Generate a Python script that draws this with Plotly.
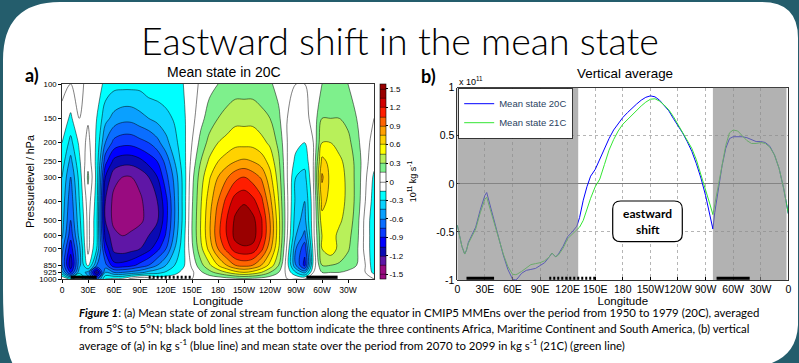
import plotly.graph_objects as go

W, H = 799, 363

# ---------------- data ----------------
longitudes_a = list(range(0, 361, 10))
pressure_levels = [100, 150, 200, 250, 300, 400, 500, 600, 700, 850, 925, 1000]
pressure_labels = ["100", "150", "200", "250", "300", "400", "500", "600", "700", "850", "925", "1000"]

psi_profiles = [
    [0.05, -0.05, -0.15, -0.22, -0.3, -0.35, -0.38, -0.42, -0.55, -0.6, -0.4, 0.0],     # 0
    [0.0, -0.18, -0.35, -0.5, -0.6, -0.7, -0.75, -0.85, -1.0, -1.15, -0.95, -0.2],      # 10E
    [0.05, 0.0, -0.12, -0.18, -0.25, -0.3, -0.35, -0.4, -0.5, -0.5, -0.35, 0.0],        # 20E
    [-0.05, -0.02, 0.05, 0.1, 0.18, 0.08, 0.05, 0.05, 0.05, -0.1, -0.5, -0.4],          # 30E
    [-0.05, -0.15, -0.18, -0.2, -0.2, -0.22, -0.25, -0.25, -0.3, -0.6, -1.25, -0.7],    # 40E
    [-0.2, -0.4, -0.6, -0.85, -1.05, -1.2, -1.2, -1.1, -0.95, -0.7, -0.45, -0.15],      # 50E
    [-0.25, -0.5, -0.8, -1.1, -1.3, -1.4, -1.4, -1.3, -1.25, -1.0, -0.6, -0.1],         # 60E
    [-0.25, -0.55, -0.85, -1.15, -1.35, -1.45, -1.45, -1.35, -1.28, -1.0, -0.6, -0.1],  # 70E
    [-0.25, -0.55, -0.85, -1.15, -1.35, -1.42, -1.42, -1.32, -1.25, -0.95, -0.55, 0.05],# 80E
    [-0.25, -0.5, -0.8, -1.1, -1.3, -1.38, -1.38, -1.28, -1.2, -0.85, -0.5, 0.15],      # 90E
    [-0.2, -0.45, -0.75, -1.0, -1.2, -1.28, -1.3, -1.2, -1.1, -0.75, -0.4, 0.1],        # 100E
    [-0.2, -0.4, -0.65, -0.9, -1.05, -1.2, -1.22, -1.1, -0.95, -0.6, -0.35, -0.05],     # 110E
    [-0.18, -0.35, -0.5, -0.7, -0.8, -0.95, -0.95, -0.88, -0.75, -0.45, -0.28, -0.05],  # 120E
    [-0.2, -0.28, -0.35, -0.45, -0.55, -0.6, -0.6, -0.55, -0.45, -0.3, -0.2, -0.05],    # 130E
    [-0.15, -0.18, -0.2, -0.22, -0.25, -0.25, -0.25, -0.22, -0.2, -0.18, -0.1, 0.0],    # 140E
    [-0.05, -0.05, 0.0, 0.05, 0.1, 0.13, 0.15, 0.15, 0.12, 0.03, -0.03, 0.0],           # 150E
    [0.02, 0.1, 0.2, 0.3, 0.38, 0.43, 0.45, 0.45, 0.4, 0.25, 0.12, 0.0],                # 160E
    [0.1, 0.22, 0.35, 0.48, 0.58, 0.68, 0.72, 0.72, 0.65, 0.42, 0.25, 0.03],            # 170E
    [0.15, 0.3, 0.45, 0.6, 0.75, 0.9, 0.98, 1.0, 0.9, 0.6, 0.35, 0.05],                 # 180
    [0.2, 0.35, 0.5, 0.68, 0.88, 1.1, 1.2, 1.2, 1.1, 0.75, 0.45, 0.08],                 # 170W
    [0.22, 0.4, 0.55, 0.75, 1.0, 1.28, 1.38, 1.4, 1.28, 0.9, 0.55, 0.1],                # 160W
    [0.22, 0.4, 0.55, 0.78, 1.05, 1.33, 1.45, 1.45, 1.32, 0.95, 0.6, 0.12],             # 150W
    [0.22, 0.4, 0.55, 0.75, 0.98, 1.25, 1.4, 1.42, 1.3, 0.9, 0.55, 0.1],                # 140W
    [0.2, 0.35, 0.5, 0.68, 0.88, 1.1, 1.22, 1.22, 1.1, 0.75, 0.45, 0.08],               # 130W
    [0.17, 0.3, 0.42, 0.55, 0.65, 0.8, 0.9, 0.9, 0.8, 0.55, 0.3, 0.05],                 # 120W
    [0.1, 0.18, 0.26, 0.33, 0.38, 0.45, 0.5, 0.5, 0.45, 0.3, 0.15, 0.0],                # 110W
    [0.0, 0.0, 0.0, 0.0, 0.0, 0.02, 0.02, 0.0, -0.05, -0.1, -0.05, 0.0],                # 100W
    [0.0, -0.05, -0.1, -0.2, -0.3, -0.35, -0.4, -0.45, -0.6, -0.6, -0.3, 0.0],          # 90W
    [0.0, -0.05, -0.15, -0.25, -0.35, -0.45, -0.5, -0.65, -0.85, -0.95, -0.5, 0.0],     # 80W
    [0.05, 0.05, 0.0, 0.0, 0.0, -0.05, -0.05, -0.05, -0.1, -0.1, 0.0, 0.05],            # 70W
    [0.15, 0.3, 0.45, 0.65, 0.78, 0.65, 0.55, 0.45, 0.45, 0.3, 0.15, 0.0],              # 60W
    [0.18, 0.3, 0.45, 0.55, 0.55, 0.55, 0.52, 0.5, 0.55, 0.3, 0.15, 0.0],               # 50W
    [0.18, 0.3, 0.4, 0.48, 0.5, 0.5, 0.47, 0.42, 0.4, 0.28, 0.15, 0.0],                 # 40W
    [0.15, 0.25, 0.35, 0.4, 0.42, 0.42, 0.4, 0.35, 0.32, 0.22, 0.12, 0.0],              # 30W
    [0.08, 0.15, 0.2, 0.25, 0.25, 0.25, 0.22, 0.2, 0.18, 0.15, 0.08, 0.0],              # 20W
    [0.0, 0.05, 0.05, 0.05, 0.03, 0.0, -0.05, -0.05, -0.05, 0.0, 0.0, 0.0],             # 10W
    [0.05, 0.0, -0.05, -0.1, -0.18, -0.22, -0.25, -0.25, -0.25, -0.25, -0.2, 0.0],      # 0
]

longitudes_b = [0, 5, 8, 10, 12, 15, 20, 25, 30, 32, 35, 40, 45, 50, 55, 60, 63, 65, 70, 75,
                80, 85, 90, 95, 100, 103, 107, 110, 115, 120, 125, 130, 133, 137, 141, 145,
                150, 155, 160, 165, 170, 175, 180, 185, 190, 195, 200, 205, 210, 215, 220,
                225, 230, 235, 240, 245, 250, 255, 260, 265, 270, 275, 278, 280, 284, 288,
                292, 296, 300, 305, 310, 315, 320, 325, 330, 335, 340, 345, 350, 355, 360]
mean_20c = [-0.43, -0.65, -0.73, -0.69, -0.61, -0.55, -0.45, -0.27, -0.12, -0.09,
            -0.2, -0.36, -0.56, -0.74, -0.89, -0.99, -1.0, -0.99, -0.93, -0.9,
            -0.89, -0.88, -0.85, -0.82, -0.76, -0.72, -0.76, -0.73, -0.65, -0.55,
            -0.5, -0.44, -0.35, -0.17, -0.03, 0.08, 0.15, 0.26, 0.37, 0.47,
            0.56, 0.63, 0.69, 0.74, 0.79, 0.83, 0.87, 0.9, 0.915, 0.905,
            0.87, 0.82, 0.76, 0.68, 0.61, 0.53, 0.44, 0.34, 0.21, 0.06,
            -0.12, -0.36, -0.47, -0.3, -0.03, 0.19, 0.37, 0.47, 0.49, 0.49,
            0.49, 0.48, 0.46, 0.44, 0.44, 0.43, 0.39, 0.3, 0.16, -0.05, -0.31]
mean_21c = [-0.43, -0.65, -0.73, -0.69, -0.62, -0.56, -0.47, -0.3, -0.16, -0.14,
            -0.24, -0.38, -0.57, -0.73, -0.86, -0.94, -0.945, -0.94, -0.91, -0.87,
            -0.84, -0.83, -0.82, -0.8, -0.76, -0.72, -0.76, -0.74, -0.67, -0.57,
            -0.52, -0.48, -0.45, -0.38, -0.26, -0.15, -0.03, 0.05, 0.2, 0.35,
            0.46, 0.55, 0.62, 0.67, 0.72, 0.77, 0.81, 0.85, 0.88, 0.885,
            0.86, 0.82, 0.77, 0.7, 0.62, 0.54, 0.46, 0.37, 0.25, 0.1,
            -0.07, -0.22, -0.32, -0.22, 0.0, 0.2, 0.4, 0.53, 0.56, 0.55,
            0.5, 0.45, 0.42, 0.42, 0.43, 0.42, 0.38, 0.3, 0.16, -0.05, -0.31]

lon_ticks_a = [0, 30, 60, 90, 120, 150, 180, 210, 240, 270, 300, 330]
lon_labels_a = ["0", "30E", "60E", "90E", "120E", "150E", "180", "150W", "120W", "90W", "60W", "30W"]
lon_ticks_b = [0, 30, 60, 90, 120, 150, 180, 210, 240, 270, 300, 330, 360]
lon_labels_b = ["0", "30E", "60E", "90E", "120E", "150E", "180", "150W", "120W", "90W", "60W", "30W", "0"]
cbar_ticks = [-1.5, -1.2, -0.9, -0.6, -0.3, 0, 0.3, 0.6, 0.9, 1.2, 1.5]
cbar_labels = ["-1.5", "-1.2", "-0.9", "-0.6", "-0.3", "0", "0.3", "0.6", "0.9", "1.2", "1.5"]
avg_ticks = [-1, -0.5, 0, 0.5, 1]
avg_labels = ["-1", "-0.5", "0", "0.5", "1"]

continents = [("Africa", 10, 40, "solid"), ("Maritime Continent", 100, 150, "2px,2px"),
              ("South America", 282, 318, "solid")]
masked_ranges = [(0, 131.5), (278, 358)]

band_colors = ["#990b80", "#5f16a6", "#0a0ab4", "#0000ff", "#0a3cff", "#0a6eff", "#0aa0ff",
               "#0ad2ff", "#00ffff", "#ffffff", "#ffffff", "#7ef08c", "#b8f05a", "#ffff00",
               "#ffd200", "#ffa000", "#ff6400", "#ff1e00", "#d20000", "#9a0000"]

AX_FONT = "Liberation Sans, Arial, sans-serif"
TXT_FONT = "Lato, sans-serif"
TEAL = "#245d6c"


def px(x):
    return x / W


def py(y):
    return 1 - y / H


def pt(x, y):
    return f"{px(x):.5f},{py(y):.5f}"


z = [list(row) for row in zip(*psi_profiles)]

n = len(band_colors)
colorscale = [[0.0, band_colors[0]]]
for k in range(n):
    colorscale.append([(k + 1) / (n + 1), band_colors[k]])
colorscale.append([1.0, band_colors[-1]])

fig = go.Figure()

fig.add_trace(go.Contour(
    x=longitudes_a, y=pressure_levels, z=z, xaxis="x", yaxis="y",
    autocontour=False,
    contours=dict(start=-1.5, end=1.5, size=0.15, coloring="fill"),
    line=dict(color="black", width=0.5, smoothing=1.0),
    colorscale=colorscale, showlegend=False, hoverinfo="skip",
    colorbar=dict(
        x=px(380), xanchor="left", y=py(181.7), yanchor="middle",
        len=195, lenmode="pixels", thickness=6, thicknessmode="pixels",
        xpad=0, ypad=0, outlinewidth=0.6, outlinecolor="black",
        tickvals=cbar_ticks, ticktext=cbar_labels, ticks="outside", ticklen=2,
        tickcolor="black", tickfont=dict(size=8, family=AX_FONT, color="black"),
        title=dict(text="10<sup>11</sup> kg s<sup>-1</sup>", side="right",
                   font=dict(size=9, family=AX_FONT, color="black")),
    ),
))

fig.add_trace(go.Scatter(x=longitudes_b, y=mean_20c, xaxis="x2", yaxis="y2", mode="lines",
                         name="Mean state 20C", line=dict(color="#0000ff", width=1)))
fig.add_trace(go.Scatter(x=longitudes_b, y=mean_21c, xaxis="x2", yaxis="y2", mode="lines",
                         name="Mean state 21C", line=dict(color="#33e633", width=1)))

shapes = []
card = ("M " + pt(3, 60) + " Q " + pt(3, 2) + " " + pt(60, 2) + " L " + pt(762, 2) +
        " Q " + pt(798, 2) + " " + pt(798, 38) + " L " + pt(798, 325) +
        " Q " + pt(796, 368) + " " + pt(740, 368) + " L " + pt(20, 372) +
        " Q " + pt(3, 363) + " " + pt(3, 290) + " Z")
shapes.append(dict(type="path", xref="paper", yref="paper", path=card, fillcolor="white",
                   line=dict(width=0), layer="below"))
for x0, x1 in masked_ranges:
    shapes.append(dict(type="rect", xref="x2", yref="y2 domain", x0=x0, x1=x1, y0=0, y1=1,
                       fillcolor="#8a8a8a", opacity=0.66, line=dict(width=0), layer="above"))
for _, a, b, style in continents:
    for xr, yr in (("x", "y domain"), ("x2", "y2 domain")):
        shapes.append(dict(type="line", xref=xr, yref=yr, x0=a, x1=b, y0=0.009, y1=0.009,
                           line=dict(color="black", width=3.2, dash=style), layer="above"))
box = ("M " + pt(620.7, 201) + " L " + pt(674.3, 201) + " Q " + pt(682.3, 201) + " " + pt(682.3, 209) +
       " L " + pt(682.3, 233.7) + " Q " + pt(682.3, 241.7) + " " + pt(674.3, 241.7) +
       " L " + pt(620.7, 241.7) + " Q " + pt(612.7, 241.7) + " " + pt(612.7, 233.7) +
       " L " + pt(612.7, 209) + " Q " + pt(612.7, 201) + " " + pt(620.7, 201) + " Z")
shapes.append(dict(type="path", xref="paper", yref="paper", path=box, fillcolor="white",
                   line=dict(color="black", width=1.2), layer="above"))

ann = []


def add_text(text, x, y, size, family=TXT_FONT, xanchor="center", yanchor="middle", weight=None,
             textangle=0, color="black"):
    f = dict(size=size, family=family, color=color)
    if weight is not None:
        f["weight"] = weight
    ann.append(dict(text=text, x=px(x), y=py(y), xref="paper", yref="paper", showarrow=False,
                    xanchor=xanchor, yanchor=yanchor, font=f, textangle=textangle))


add_text("Eastward shift in the mean state", 400, 40, 37.5, weight=300)
add_text("<b>a)</b>", 31.5, 75, 18)
add_text("<b>b)</b>", 429, 76, 18)
add_text("Mean state in 20C", 223.5, 72.5, 14, family=AX_FONT)
add_text("Vertical average", 624.7, 73, 13.4, family=AX_FONT)
add_text("x 10<sup>11</sup>", 457, 81, 9, family=AX_FONT, xanchor="left")
add_text("<b>eastward</b>", 647.5, 213.5, 12)
add_text("<b>shift</b>", 647.5, 229.5, 12)
add_text("<b><i>Figure 1</i></b>: (a) Mean state of zonal stream function along the equator in CMIP5 "
         "MMEns over the period from 1950 to 1979 (20C), averaged", 77, 312, 11.4, xanchor="left")
add_text("from 5°S to 5°N; black bold lines at the bottom indicate the three continents Africa, "
         "Maritime Continent and South America, (b) vertical", 77, 328, 11.4, xanchor="left")
add_text("average of (a) in kg s<sup>-1</sup> (blue line) and mean state over the period from 2070 "
         "to 2099 in kg s<sup>-1</sup> (21C) (green line)", 77, 344, 11.4, xanchor="left")

axis_common = dict(showline=True, linecolor="black", linewidth=0.8, mirror=True,
                   tickcolor="black", color="black", automargin=False, tickangle=0)

fig.update_layout(
    width=W, height=H, margin=dict(l=0, r=0, t=0, b=0, pad=0, autoexpand=False),
    paper_bgcolor=TEAL, plot_bgcolor="white",
    shapes=shapes, annotations=ann,
    xaxis=dict(domain=[px(62), px(374)], range=[0, 360], anchor="y",
               tickvals=lon_ticks_a, ticktext=lon_labels_a, ticks="outside", ticklen=3,
               tickfont=dict(size=8.5, family=AX_FONT), showgrid=False, zeroline=False,
               title=dict(text="Longitude", font=dict(size=11.5, family=AX_FONT), standoff=0),
               **axis_common),
    yaxis=dict(domain=[py(279), py(84)], type="log", range=[3, 2], anchor="x",
               tickvals=pressure_levels, ticktext=pressure_labels, ticks="outside", ticklen=3,
               tickfont=dict(size=7.8, family=AX_FONT), showgrid=False, zeroline=False,
               title=dict(text="Pressurelevel / hPa", font=dict(size=10.7, family=AX_FONT), standoff=2),
               **axis_common),
    xaxis2=dict(domain=[px(457.3), px(788.3)], range=[0, 360], anchor="y2",
                tickvals=lon_ticks_b, ticktext=lon_labels_b, ticks="inside", ticklen=3,
                tickfont=dict(size=10.5, family=AX_FONT), showgrid=True, gridcolor="#b5b5b5",
                griddash="dot", gridwidth=1, zeroline=False,
                title=dict(text="Longitude", font=dict(size=11.5, family=AX_FONT), standoff=0),
                **axis_common),
    yaxis2=dict(domain=[py(280), py(87.7)], range=[-1, 1], anchor="x2",
                tickvals=avg_ticks, ticktext=avg_labels, ticks="inside", ticklen=3,
                tickfont=dict(size=10.5, family=AX_FONT), showgrid=True, gridcolor="#b5b5b5",
                griddash="dot", gridwidth=1, zeroline=True, zerolinecolor="#7a7a7a",
                zerolinewidth=1, **axis_common),
    legend=dict(x=px(458.5), y=py(88.5), xanchor="left", yanchor="top", bgcolor="white",
                bordercolor="black", borderwidth=0.7, font=dict(size=9.5, family=AX_FONT),
                tracegroupgap=0, itemwidth=30),
    showlegend=True,
)

fig.write_html(
    "out.html",
    config={"displayModeBar": False, "staticPlot": True},
    post_script="var s=document.createElement('style');"
                "s.innerHTML='html,body{margin:0;padding:0;overflow:hidden;background:" + TEAL + ";}"
                "::-webkit-scrollbar{display:none;width:0;height:0;}';"
                "document.head.appendChild(s);",
)
